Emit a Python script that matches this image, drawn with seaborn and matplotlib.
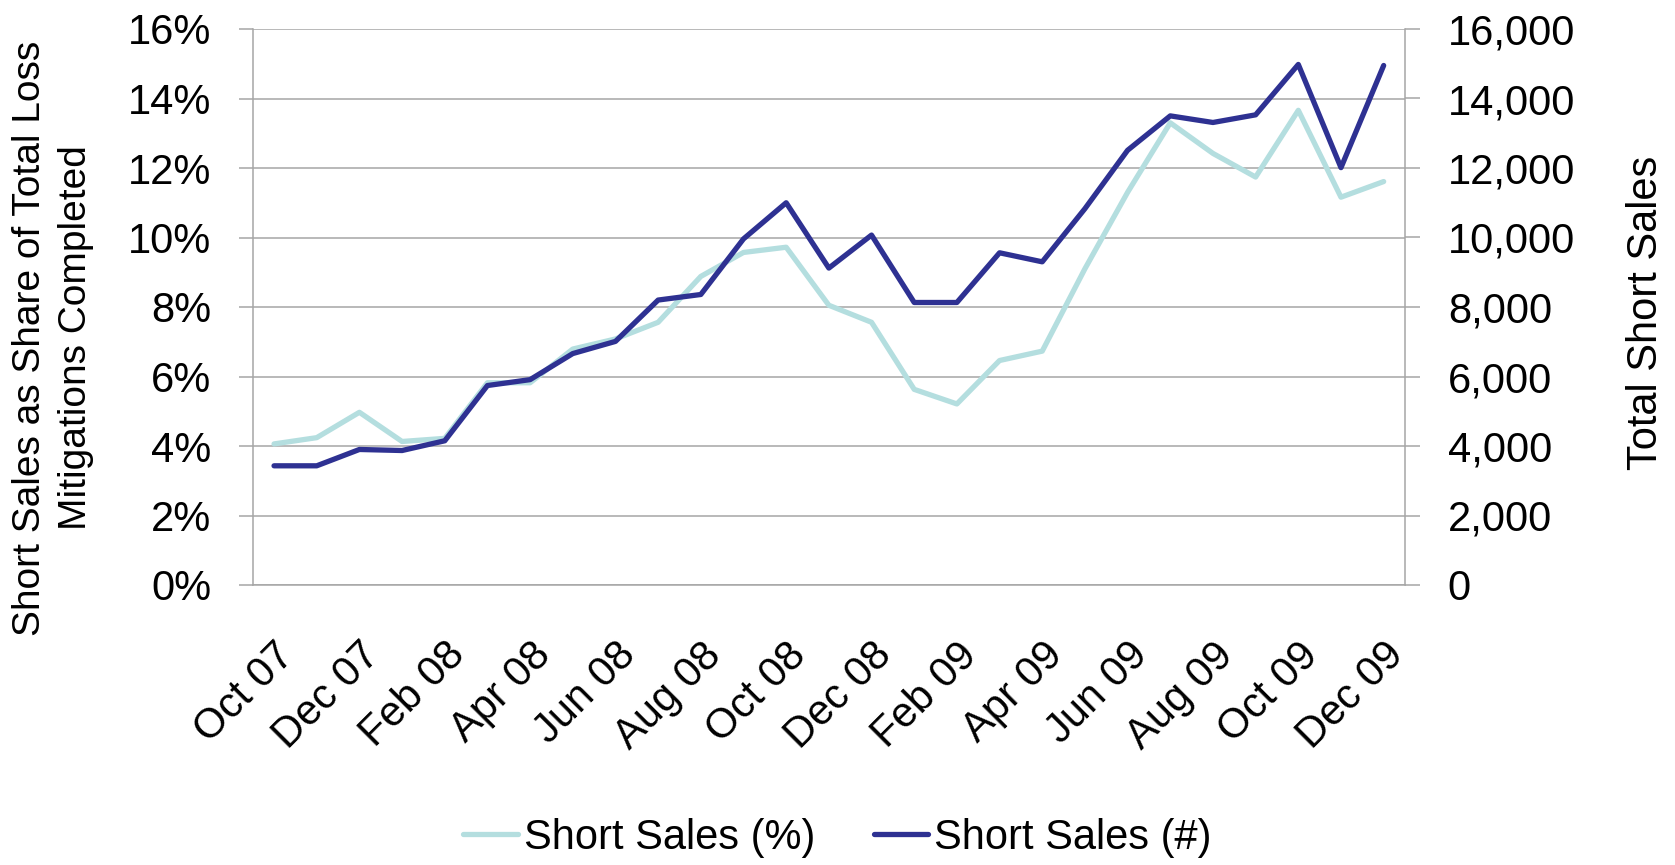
import matplotlib
matplotlib.use("Agg")
import matplotlib.pyplot as plt
from matplotlib.ticker import FuncFormatter, FixedLocator
import seaborn as sns
import pandas as pd
import numpy as np

# ---- data ----
months = ["Oct 07", "Nov 07", "Dec 07", "Jan 08", "Feb 08", "Mar 08", "Apr 08", "May 08",
          "Jun 08", "Jul 08", "Aug 08", "Sep 08", "Oct 08", "Nov 08", "Dec 08", "Jan 09",
          "Feb 09", "Mar 09", "Apr 09", "May 09", "Jun 09", "Jul 09", "Aug 09", "Sep 09",
          "Oct 09", "Nov 09", "Dec 09"]
short_sales_pct = [4.06, 4.24, 4.97, 4.13, 4.22, 5.82, 5.82, 6.79, 7.08, 7.56, 8.88, 9.57,
                   9.72, 8.05, 7.56, 5.63, 5.21, 6.46, 6.73, 9.10, 11.30, 13.30, 12.42,
                   11.74, 13.66, 11.16, 11.61]
short_sales_num = [3430, 3430, 3900, 3870, 4150, 5740, 5910, 6660, 7010, 8200, 8360, 9960,
                   11000, 9120, 10070, 8130, 8130, 9560, 9300, 10830, 12510, 13500, 13310,
                   13530, 14980, 12010, 14950]
series_labels = ["Short Sales (%)", "Short Sales (#)"]
left_label = "Short Sales as Share of Total Loss\nMitigations Completed"
right_label = "Total Short Sales"

# ---- style ----
sns.set_theme(style="white")
plt.rcParams["font.family"] = ["Liberation Sans", "DejaVu Sans"]
plt.rcParams["text.color"] = "black"
plt.rcParams["axes.labelcolor"] = "black"
plt.rcParams["xtick.labelcolor"] = "black"
plt.rcParams["ytick.labelcolor"] = "black"

LIGHT = "#B4DEDF"
DARK = "#2E3192"
GRID = "#A6A6A6"

df = pd.DataFrame({"month": months, "pct": short_sales_pct, "num": short_sales_num})
df["pos"] = np.arange(len(df))

fig = plt.figure(figsize=(16.75, 8.65), dpi=100)
ax = fig.add_axes([252.7 / 1675, 1 - 585 / 865, (1405 - 252.7) / 1675, (585 - 29) / 865])
ax2 = ax.twinx()

sns.lineplot(data=df, x="pos", y="pct", ax=ax, color=LIGHT, lw=3.8, sort=False,
             label=series_labels[0], legend=False)
sns.lineplot(data=df, x="pos", y="num", ax=ax2, color=DARK, lw=3.8, sort=False,
             label=series_labels[1], legend=False)

n = len(months)
for a in (ax, ax2):
    a.set_xlim(-0.5, n - 0.5)
ax.set_ylim(0, 16)
ax2.set_ylim(0, 16000)

ax.set_yticks(np.arange(0, 17, 2))
ax2.set_yticks(np.arange(0, 16001, 2000))
ax.yaxis.set_major_formatter(FuncFormatter(lambda v, p: f"{v:.0f}%"))
ax2.yaxis.set_major_formatter(FuncFormatter(lambda v, p: f"{v:,.0f}"))

ax.grid(True, axis="y", color=GRID, lw=1.1)
ax.grid(False, axis="x")
ax2.grid(False)

# x ticks: labels every 2 months, tick marks at category boundaries
ax.xaxis.set_major_locator(FixedLocator(df["pos"].values[::2]))
ax.set_xticklabels(months[::2])
ax.xaxis.set_minor_locator(FixedLocator(np.arange(-0.5, n, 1.0)))
ax.tick_params(axis="x", which="major", length=0, pad=36, labelsize=30, labelcolor="black")
ax.tick_params(axis="x", which="minor", length=10.8, width=1.1, color=GRID, direction="out")
for lbl in ax.get_xticklabels():
    lbl.set_rotation(45)
    lbl.set_ha("right")
    lbl.set_va("top")
    lbl.set_rotation_mode("anchor")

ax.tick_params(axis="y", which="major", length=10, width=1.1, color=GRID, direction="out",
               pad=20, labelsize=30, left=True, labelcolor="black")
ax2.tick_params(axis="y", which="major", length=10.8, width=1.1, color=GRID, direction="out",
                pad=20, labelsize=30, right=True, labelcolor="black")

for a in (ax, ax2):
    for s in a.spines.values():
        s.set_color(GRID)
        s.set_linewidth(1.1)
    a.spines["top"].set_visible(False)
ax.spines["right"].set_visible(False)
ax2.spines["left"].set_visible(False)
ax2.spines["bottom"].set_visible(False)

ax.set_xlabel("")
ax.set_ylabel(left_label, fontsize=28, va="center", linespacing=1.35, color="black")
ax.yaxis.set_label_coords((53 - 252.7) / 1152.3, (585 - 338) / 556)
ax2.set_ylabel(right_label, fontsize=30, va="center", rotation=90, color="black")
ax2.yaxis.set_label_coords((1646 - 252.7) / 1152.3, (585 - 313) / 556)

h1, l1 = ax.get_legend_handles_labels()
h2, l2 = ax2.get_legend_handles_labels()
fig.legend(h1 + h2, l1 + l2, loc="center", bbox_to_anchor=(0.5, 1 - 838 / 865), ncol=2,
           frameon=False, fontsize=30, handlelength=1.3, handletextpad=0.15,
           columnspacing=1.4, labelcolor="black")

fig.savefig("out.png", dpi=100)
